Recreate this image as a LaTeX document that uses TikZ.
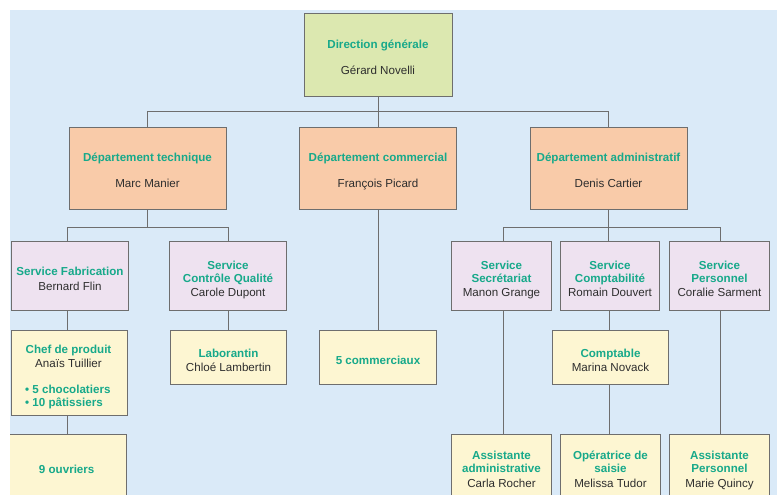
\documentclass[tikz,border=0pt]{standalone}
\usepackage{fontspec}
\setmainfont{Liberation Sans}
\definecolor{bgblue}{HTML}{DAEAF8}
\definecolor{dgc}{HTML}{DCE8B0}
\definecolor{depc}{HTML}{F9CBA9}
\definecolor{srvc}{HTML}{EEE2F0}
\definecolor{yelc}{HTML}{FDF6D2}
\definecolor{teal}{HTML}{17A98A}
\definecolor{ink}{HTML}{2E2E2E}
\definecolor{edge}{HTML}{6E6E6E}
\tikzset{
  box/.style={draw=edge, line width=0.9pt, inner sep=0pt},
  conn/.style={draw=edge, line width=0.9pt},
  ttl/.style={anchor=base, inner sep=0pt, text=teal, font=\bfseries\fontsize{11.6}{13}\selectfont},
  nm/.style={anchor=base, inner sep=0pt, text=ink, font=\fontsize{11.6}{13}\selectfont},
  bul/.style={anchor=base west, inner sep=0pt, text=teal, font=\bfseries\fontsize{11.6}{13}\selectfont}
}
\begin{document}
\begin{tikzpicture}[x=1pt,y=-1pt]
\useasboundingbox (0,0) rectangle (777,495);
\fill[white] (0,0) rectangle (777,495);
\fill[bgblue] (10,10) rectangle (777,495);
\begin{scope}
\clip (10,10) rectangle (777,495);
% level 0
\node[box, fill=dgc, minimum width=148, minimum height=83] (dg) at (378,54.5) {};
% level 1
\node[box, fill=depc, minimum width=157, minimum height=82] (dt) at (147.5,168) {};
\node[box, fill=depc, minimum width=157, minimum height=82] (dc) at (378,168) {};
\node[box, fill=depc, minimum width=157, minimum height=82] (da) at (608.5,168) {};
% level 2
\node[box, fill=srvc, minimum width=116.5, minimum height=69] (sf) at (70,276.3) {};
\node[box, fill=srvc, minimum width=116.5, minimum height=69] (cq) at (228,276.3) {};
\node[box, fill=srvc, minimum width=99.5, minimum height=69] (sec) at (501.5,276.3) {};
\node[box, fill=srvc, minimum width=99.5, minimum height=69] (compt) at (610,276.3) {};
\node[box, fill=srvc, minimum width=99.5, minimum height=69] (pers) at (719.5,276.3) {};
% level 3
\node[box, fill=yelc, minimum width=116.5, minimum height=85] (chef) at (69.5,372.5) {};
\node[box, fill=yelc, minimum width=116.5, minimum height=54] (lab) at (228.5,357.7) {};
\node[box, fill=yelc, minimum width=116.5, minimum height=54] (com) at (378,357.7) {};
\node[box, fill=yelc, minimum width=116.5, minimum height=54] (cpt) at (610.5,357.7) {};
% level 4
\node[box, fill=yelc, minimum width=122, minimum height=90] (ouv) at (65,479) {};
\node[box, fill=yelc, minimum width=99.5, minimum height=90] (aa) at (501.5,479) {};
\node[box, fill=yelc, minimum width=99.5, minimum height=90] (op) at (610.5,479) {};
\node[box, fill=yelc, minimum width=99.5, minimum height=90] (ap) at (719.5,479) {};
% connectors
\draw[conn] (dg.south) -- (dc.north);
\draw[conn] (dt.north) -- ++(0,-15) -| (da.north);
\draw[conn] (dt.south) -- ++(0,18) coordinate (tj);
\draw[conn] ([xshift=-2.7pt]sf.north) |- (tj) -| (cq.north);
\draw[conn] ([xshift=-2.7pt]sf.south) -- ([xshift=-2.7pt]sf.south |- chef.north);
\draw[conn] ([xshift=-2.5pt]chef.south) -- ([xshift=-2.5pt]chef.south |- ouv.north);
\draw[conn] (cq.south) -- (cq.south |- lab.north);
\draw[conn] (dc.south) -- (com.north);
\draw[conn] (da.south) -- ++(0,18) coordinate (aj);
\draw[conn] ([xshift=2.2pt]sec.north) |- (aj) -| ([xshift=0.8pt]pers.north);
\draw[conn] (aj) -- (aj |- compt.north);
\draw[conn] ([xshift=2.2pt]sec.south) -- ([xshift=2.2pt]sec.south |- aa.north);
\draw[conn] ([xshift=-1pt]compt.south) -- ([xshift=-1pt]compt.south |- cpt.north);
\draw[conn] ([xshift=-1.5pt]cpt.south) -- ([xshift=-1.5pt]cpt.south |- op.north);
\draw[conn] ([xshift=0.8pt]pers.south) -- ([xshift=0.8pt]pers.south |- ap.north);
% texts
\node[ttl] (dg-t) at (378,49) {Direction générale};
\node[nm]  (dg-n) at (378,75) {Gérard Novelli};
\node[ttl] (dt-t) at (147.5,161.5) {Département technique};
\node[nm]  (dt-n) at (147.5,187.5) {Marc Manier};
\node[ttl] (dc-t) at (378,161.5) {Département commercial};
\node[nm]  (dc-n) at (378,187.5) {François Picard};
\node[ttl] (da-t) at (608.5,161.5) {Département administratif};
\node[nm]  (da-n) at (608.5,187.5) {Denis Cartier};
\node[ttl] (sf-t) at (70,275.5) {Service Fabrication};
\node[nm]  (sf-n) at (70,290) {Bernard Flin};
\node[ttl] (cq-t1) at (228,269) {Service};
\node[ttl] (cq-t2) at (228,282) {Contrôle Qualité};
\node[nm]  (cq-n) at (228,296.5) {Carole Dupont};
\node[ttl] (sec-t1) at (501.5,269) {Service};
\node[ttl] (sec-t2) at (501.5,282) {Secrétariat};
\node[nm]  (sec-n) at (501.5,296.5) {Manon Grange};
\node[ttl] (compt-t1) at (610,269) {Service};
\node[ttl] (compt-t2) at (610,282) {Comptabilité};
\node[nm]  (compt-n) at (610,296.5) {Romain Douvert};
\node[ttl] (pers-t1) at (719.5,269) {Service};
\node[ttl] (pers-t2) at (719.5,282) {Personnel};
\node[nm]  (pers-n) at (719.5,296.5) {Coralie Sarment};
\node[ttl] (chef-t) at (68.5,353.3) {Chef de produit};
\node[nm]  (chef-n) at (68.5,367.7) {Anaïs Tuillier};
\node[bul] (chef-b1) at (25,393.3) {• 5 chocolatiers};
\node[bul] (chef-b2) at (25,406) {• 10 pâtissiers};
\node[ttl] (lab-t) at (228.5,357.3) {Laborantin};
\node[nm]  (lab-n) at (228.5,371.7) {Chloé Lambertin};
\node[ttl] (com-t) at (378,364) {5 commerciaux};
\node[ttl] (cpt-t) at (610.5,357.3) {Comptable};
\node[nm]  (cpt-n) at (610.5,371.7) {Marina Novack};
\node[ttl] (ouv-t) at (66.7,473) {9 ouvriers};
\node[ttl] (aa-t1) at (501.5,459.5) {Assistante};
\node[ttl] (aa-t2) at (501.5,472.5) {administrative};
\node[nm]  (aa-n) at (501.5,487) {Carla Rocher};
\node[ttl] (op-t1) at (610.5,459.5) {Opératrice de};
\node[ttl] (op-t2) at (610.5,472.5) {saisie};
\node[nm]  (op-n) at (610.5,487) {Melissa Tudor};
\node[ttl] (ap-t1) at (719.5,459.5) {Assistante};
\node[ttl] (ap-t2) at (719.5,472.5) {Personnel};
\node[nm]  (ap-n) at (719.5,487) {Marie Quincy};
\end{scope}
\end{tikzpicture}
\end{document}
